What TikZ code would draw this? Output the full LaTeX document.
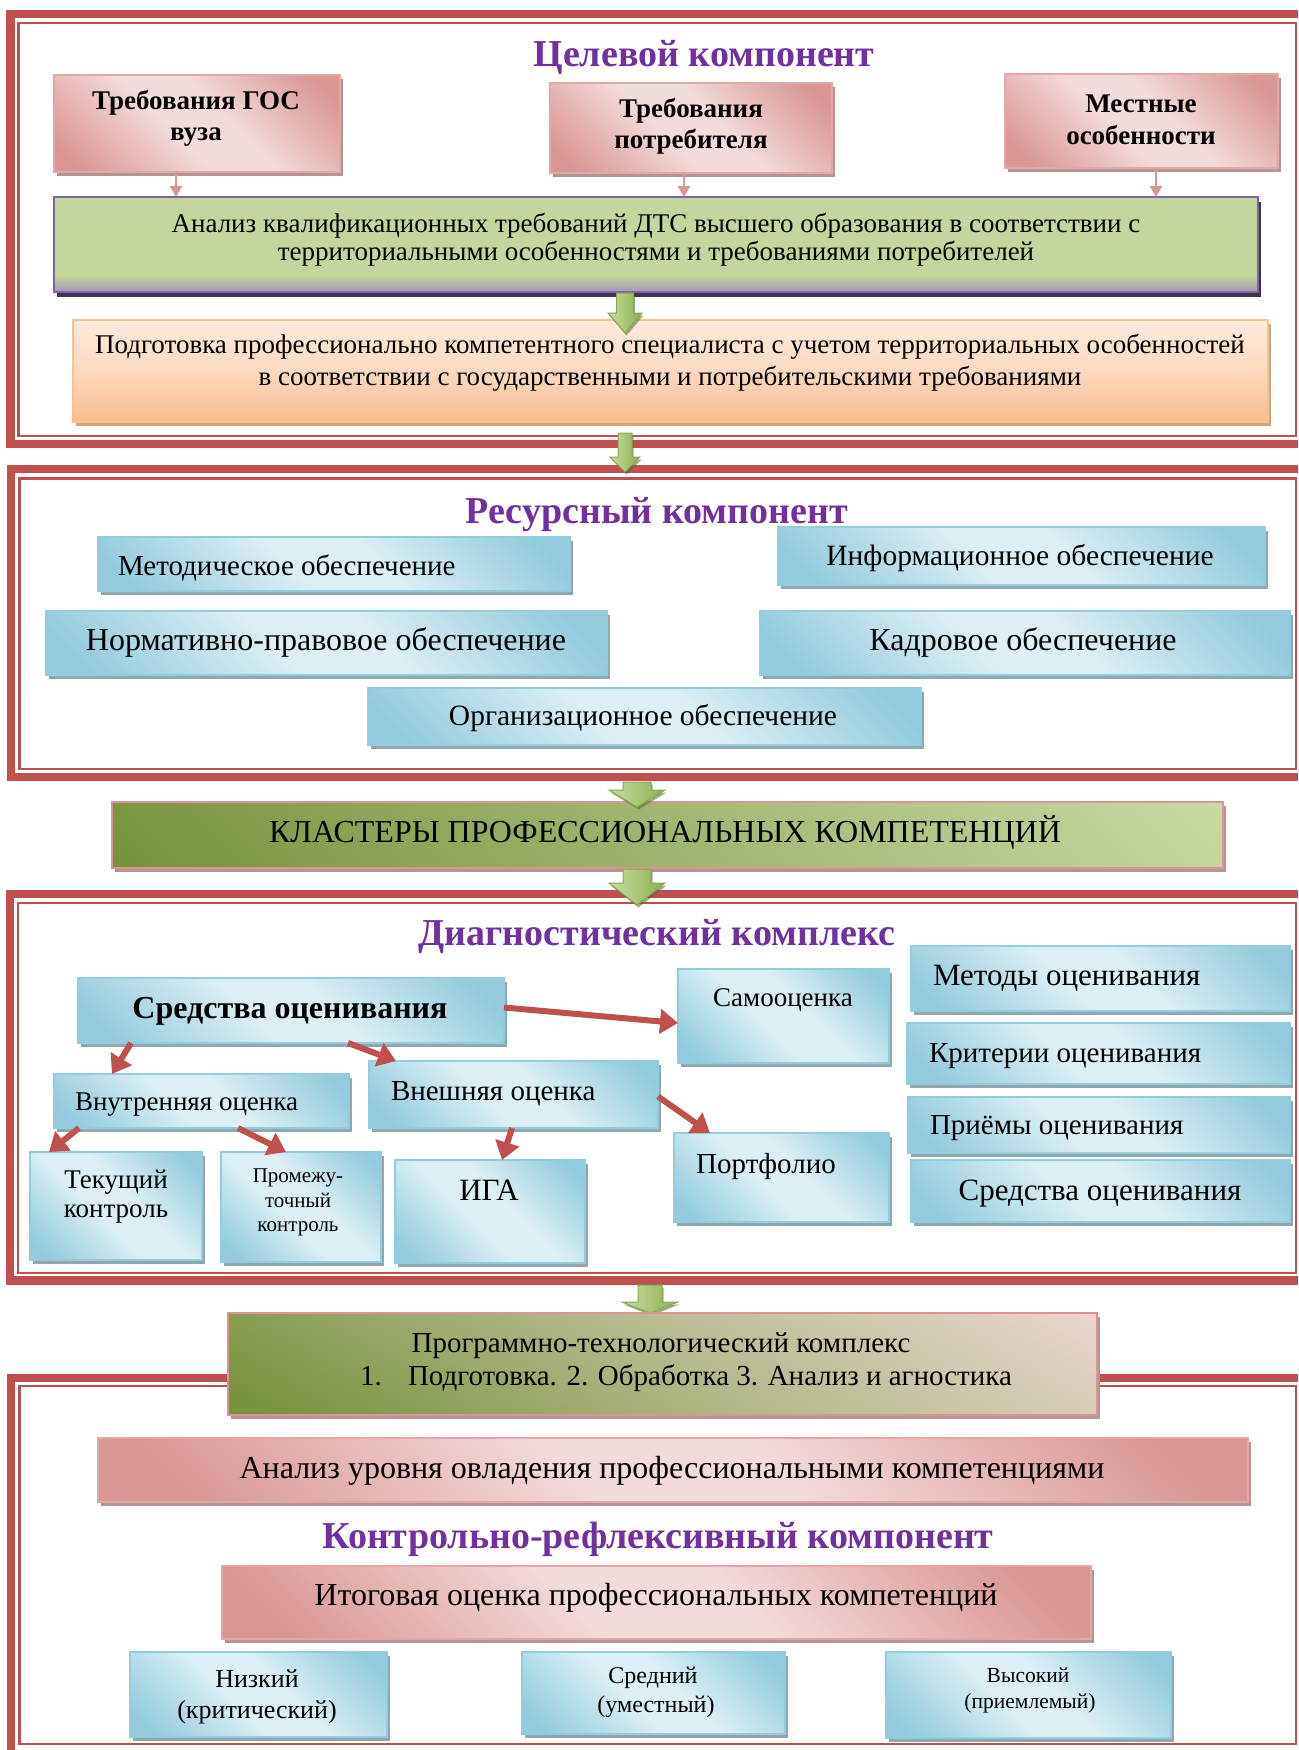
\documentclass[tikz,border=0pt]{standalone}
\usepackage{fontspec}
\setmainfont{Liberation Serif}
\usetikzlibrary{shadows,arrows.meta}

\definecolor{fred}{HTML}{C0504D}
\definecolor{tpurple}{HTML}{7030A0}
\definecolor{bdark}{HTML}{92CCDC}
\definecolor{blight}{HTML}{DDEFF4}
\definecolor{bborder}{HTML}{93CDDD}
\definecolor{bshadow}{HTML}{8FA7AD}
\definecolor{pdark}{HTML}{D99694}
\definecolor{plight}{HTML}{F2DCDB}
\definecolor{pborder}{HTML}{E0A8A7}
\definecolor{pshadow}{HTML}{B39595}
\definecolor{gfill}{HTML}{C3D69B}
\definecolor{gbot}{HTML}{A496B8}
\definecolor{gborder}{HTML}{8064A2}
\definecolor{gshadow}{HTML}{3F3151}
\definecolor{olight}{HTML}{FDEBDD}
\definecolor{omid}{HTML}{FCD9C0}
\definecolor{odark}{HTML}{F9BD8D}
\definecolor{oborder}{HTML}{FAC090}
\definecolor{oshadow}{HTML}{C8A888}
\definecolor{kldark}{HTML}{77933C}
\definecolor{kllight}{HTML}{C8DAA2}
\definecolor{prmid}{HTML}{B5BB8C}
\definecolor{prlight}{HTML}{EBD7D2}
\definecolor{alight}{HTML}{C9DDA0}
\definecolor{adark}{HTML}{8BAF4E}
\definecolor{aborder}{HTML}{86A84E}

\pgfdeclareverticalshading{blueshade}{100bp}{color(0bp)=(bdark); color(20bp)=(bdark); color(44bp)=(blight); color(56bp)=(blight); color(80bp)=(bdark); color(100bp)=(bdark)}
\pgfdeclareverticalshading{pinkshade}{100bp}{color(0bp)=(pdark); color(20bp)=(pdark); color(44bp)=(plight); color(56bp)=(plight); color(80bp)=(pdark); color(100bp)=(pdark)}
\pgfdeclareverticalshading{greenshade}{100bp}{color(0bp)=(gbot); color(25bp)=(gbot); color(34bp)=(gfill); color(100bp)=(gfill)}
\pgfdeclareverticalshading{orangeshade}{100bp}{color(0bp)=(odark); color(25bp)=(odark); color(50bp)=(omid); color(75bp)=(olight); color(100bp)=(olight)}
\pgfdeclareverticalshading{klshade}{100bp}{color(0bp)=(kldark); color(15bp)=(kldark); color(85bp)=(kllight); color(100bp)=(kllight)}
\pgfdeclareverticalshading{prshade}{100bp}{color(0bp)=(kldark); color(18bp)=(kldark); color(52bp)=(prmid); color(85bp)=(prlight); color(100bp)=(prlight)}

\newcommand\fsz[1]{\fontsize{#1pt}{#1pt}\selectfont}
\newcommand\bx[6]{\node[#1,anchor=north west,minimum width={#5pt-#3pt},minimum height={#6pt-#4pt}] (#2) at (#3,#4) {};}
\newcommand\garrow[6]{\path[garr] ({#1-#5},#2) -- ({#1+#5},#2) -- ({#1+#5},#3) -- ({#1+#6},#3) -- (#1,#4) -- ({#1-#6},#3) -- ({#1-#5},#3) -- cycle;}

\tikzset{
  frameo/.style={draw=fred,line width=8.5pt},
  framei/.style={draw=fred,line width=2.5pt},
  boxbase/.style={rectangle,inner sep=0pt,outer sep=0pt,line width=2pt,shade},
  bluebox/.style={boxbase,draw=bborder,shading=blueshade,shading angle=-45,
    drop shadow={shadow xshift=3pt,shadow yshift=-4pt,fill=bshadow,opacity=1}},
  pinkbox/.style={boxbase,draw=pborder,shading=pinkshade,shading angle=-45,
    drop shadow={shadow xshift=3pt,shadow yshift=-4pt,fill=pshadow,opacity=1}},
  greenbox/.style={boxbase,draw=gborder,line width=2.5pt,shading=greenshade,
    drop shadow={shadow xshift=3pt,shadow yshift=-5pt,fill=gshadow,opacity=1}},
  orangebox/.style={boxbase,draw=oborder,shading=orangeshade,
    drop shadow={shadow xshift=3pt,shadow yshift=-4pt,fill=oshadow,opacity=1}},
  klbox/.style={boxbase,draw=pdark,line width=2.5pt,shading=klshade,shading angle=-45,
    drop shadow={shadow xshift=3pt,shadow yshift=-4pt,fill=pshadow,opacity=1}},
  prbox/.style={boxbase,draw=pdark,line width=2.5pt,shading=prshade,shading angle=-30,
    drop shadow={shadow xshift=3pt,shadow yshift=-4pt,fill=pshadow,opacity=1}},
  txt/.style={anchor=base,inner sep=0pt,outer sep=0pt,text=black},
  ttl/.style={txt,font=\fsz{38}\bfseries,text=tpurple},
  garr/.style={left color=alight,right color=adark,draw=aborder,line width=1pt,
    drop shadow={shadow xshift=1.5pt,shadow yshift=-2.5pt,fill=kldark!70!black,opacity=.55}},
  redarr/.style={draw=fred,line width=6pt,-{Triangle[length=18pt,width=24pt]}},
  parr/.style={draw=pdark,line width=2.5pt,-{Triangle[length=11pt,width=12pt]}}
}

\begin{document}
\begin{tikzpicture}[x=1pt,y=-1pt]
\useasboundingbox (0,0) rectangle (1298,1750);
\fill[white] (0,0) rectangle (1298,1750);
\clip (0,0) rectangle (1298,1750);

% ---------- frames ----------
\draw[frameo] (10.5,14) rectangle (1320,444);
\draw[framei] (18.5,23) rectangle (1296,436);
\draw[frameo] (11,469) rectangle (1320,777);
\draw[framei] (19.5,478.5) rectangle (1296,769);
\draw[frameo] (10,894) rectangle (1320,1280.5);
\draw[framei] (18,903) rectangle (1296,1273);
\draw[frameo] (11,1378) rectangle (1320,1760);
\draw[framei] (19.5,1386) rectangle (1296,1744);

% ---------- Целевой компонент ----------
\node[ttl] (t1) at (704,67) {Целевой компонент};

\bx{pinkbox}{b1}{54}{75}{340}{172}
\node[txt,font=\fsz{27}\bfseries] (b1a) at (196,110) {Требования ГОС};
\node[txt,font=\fsz{27}\bfseries] (b1b) at (196,140) {вуза};

\bx{pinkbox}{b2}{550}{83}{832}{173}
\node[txt,font=\fsz{27}\bfseries] (b2a) at (691,118) {Требования};
\node[txt,font=\fsz{27}\bfseries] (b2b) at (691,148) {потребителя};

\bx{pinkbox}{b3}{1005}{74}{1278}{168}
\node[txt,font=\fsz{27}\bfseries] (b3a) at (1141,113) {Местные};
\node[txt,font=\fsz{27}\bfseries] (b3b) at (1141,145) {особенности};

\bx{greenbox}{g1}{54}{197}{1258}{292}
\node[txt,font=\fsz{27}] (g1a) at (656,232) {Анализ квалификационных требований ДТС высшего образования в соответствии с};
\node[txt,font=\fsz{27}] (g1b) at (656,260) {территориальными особенностями и требованиями потребителей};

\draw[parr] ([xshift=122pt]b1.south west) -- ([xshift=122pt]g1.north west);
\draw[parr] ([xshift=134pt]b2.south west) -- ([xshift=630pt]g1.north west);
\draw[parr] ([xshift=151pt]b3.south west) -- ([xshift=1102pt]g1.north west);

\bx{orangebox}{o1}{73}{320}{1268}{422}
\node[txt,font=\fsz{27}] (o1a) at (670,353) {Подготовка профессионально компетентного специалиста с учетом территориальных особенностей};
\node[txt,font=\fsz{27}] (o1b) at (670,385) {в соответствии с государственными и потребительскими требованиями};

\garrow{625}{293}{313}{333}{8.5}{17}
\garrow{625}{433}{457}{472}{7}{15}

% ---------- Ресурсный компонент ----------
\node[ttl] (t2) at (657,523) {Ресурсный компонент};

\bx{bluebox}{m1}{98}{537}{570}{591}
\node[txt,anchor=base west,font=\fsz{29}] (m1t) at (118,575) {Методическое обеспечение};
\bx{bluebox}{m2}{778}{527}{1265}{585}
\node[txt,font=\fsz{29.5}] (m2t) at (1020,565) {Информационное обеспечение};
\bx{bluebox}{m3}{46}{611}{607}{675}
\node[txt,font=\fsz{32}] (m3t) at (326,650) {Нормативно-правовое обеспечение};
\bx{bluebox}{m4}{760}{611}{1290}{675}
\node[txt,font=\fsz{32}] (m4t) at (1023,650) {Кадровое обеспечение};
\bx{bluebox}{m5}{368}{688}{921}{745}
\node[txt,font=\fsz{29.5}] (m5t) at (643,725) {Организационное обеспечение};

\bx{klbox}{kl}{112}{802}{1223}{868}
\node[txt,font=\fsz{32}] (klt) at (665,842) {КЛАСТЕРЫ ПРОФЕССИОНАЛЬНЫХ КОМПЕТЕНЦИЙ};

\garrow{637}{782}{790}{807}{14}{28}
\garrow{637}{869}{883}{905}{14}{28}

% ---------- Диагностический комплекс ----------
\node[ttl] (t3) at (657,945) {Диагностический комплекс};

\bx{bluebox}{sred}{78}{978}{504}{1043}
\node[txt,font=\fsz{32}\bfseries] (sredt) at (290,1018) {Средства оценивания};
\bx{bluebox}{vnutr}{54}{1074}{349}{1128}
\node[txt,anchor=base west,font=\fsz{27}] (vnutrt) at (75,1110) {Внутренняя оценка};
\bx{bluebox}{vnesh}{369}{1061}{658}{1128}
\node[txt,anchor=base west,font=\fsz{29}] (vnesht) at (391,1100) {Внешняя оценка};
\bx{bluebox}{tek}{30}{1152}{202}{1260}
\node[txt,font=\fsz{27}] (teka) at (116,1188) {Текущий};
\node[txt,font=\fsz{27}] (tekb) at (116,1217) {контроль};
\bx{bluebox}{prom}{221}{1152}{381}{1262}
\node[txt,font=\fsz{21}] (proma) at (298,1182) {Промежу-};
\node[txt,font=\fsz{21}] (promb) at (298,1207) {точный};
\node[txt,font=\fsz{21}] (promc) at (298,1231) {контроль};
\bx{bluebox}{iga}{395}{1160}{585}{1263}
\node[txt,font=\fsz{31}] (igat) at (489,1200) {ИГА};
\bx{bluebox}{samo}{678}{969}{889}{1063}
\node[txt,font=\fsz{27}] (samot) at (783,1006) {Самооценка};
\bx{bluebox}{portf}{674}{1133}{889}{1222}
\node[txt,font=\fsz{29}] (portft) at (766,1173) {Портфолио};
\bx{bluebox}{met}{911}{946}{1290}{1011}
\node[txt,anchor=base west,font=\fsz{31}] (mett) at (933,985) {Методы оценивания};
\bx{bluebox}{krit}{907}{1023}{1290}{1084}
\node[txt,anchor=base west,font=\fsz{29}] (kritt) at (929,1062) {Критерии оценивания};
\bx{bluebox}{prie}{908}{1097}{1290}{1153}
\node[txt,anchor=base west,font=\fsz{29}] (priet) at (930,1134) {Приёмы оценивания};
\bx{bluebox}{sred2}{911}{1160}{1290}{1222}
\node[txt,font=\fsz{31}] (sred2t) at (1100,1200) {Средства оценивания};

\draw[redarr] ([xshift=53pt]sred.south west) -- ([xshift=58pt]vnutr.north west);
\draw[redarr] ([xshift=270pt]sred.south west) -- ([xshift=27pt]vnesh.north west);
\draw[redarr] ([xshift=25pt]vnutr.south west) -- ([xshift=19pt]tek.north west);
\draw[redarr] ([xshift=184pt]vnutr.south west) -- ([xshift=65pt]prom.north west);
\draw[redarr] ([xshift=143pt]vnesh.south west) -- ([xshift=107pt]iga.north west);
\draw[redarr] ([yshift=3pt]sred.east) -- ([yshift=-7pt]samo.west);
\draw[redarr] ([yshift=-2pt]vnesh.east) -- ([xshift=36pt]portf.north west);

\garrow{650}{1285}{1302}{1313}{12}{28}

% ---------- Контрольно-рефлексивный компонент ----------
\bx{prbox}{prog}{228}{1313}{1097}{1415}
\node[txt,font=\fsz{29}] (proga) at (661,1352) {Программно-технологический комплекс};
\node[txt,anchor=base west,font=\fsz{29}] (progn) at (360,1385) {1.};
\node[txt,anchor=base west,font=\fsz{29}] (progb) at (408,1385) {Подготовка. 2. Обработка 3. Анализ и агностика};

\bx{pinkbox}{an}{98}{1438}{1248}{1502}
\node[txt,font=\fsz{32}] (ant) at (672,1478) {Анализ уровня овладения профессиональными компетенциями};

\node[ttl] (t4) at (658,1548) {Контрольно-рефлексивный компонент};

\bx{pinkbox}{itog}{222}{1566}{1091}{1639}
\node[txt,font=\fsz{32}] (itogt) at (656,1605) {Итоговая оценка профессиональных компетенций};

\bx{bluebox}{low}{130}{1652}{387}{1737}
\node[txt,font=\fsz{26}] (lowa) at (257,1687) {Низкий};
\node[txt,font=\fsz{26}] (lowb) at (257,1718) {(критический)};
\bx{bluebox}{mid}{522}{1652}{785}{1734}
\node[txt,font=\fsz{24}] (mida) at (653,1683) {Средний};
\node[txt,font=\fsz{24}] (midb) at (656,1712) {(уместный)};
\bx{bluebox}{high}{886}{1652}{1171}{1738}
\node[txt,font=\fsz{21.5}] (higha) at (1028,1682) {Высокий};
\node[txt,font=\fsz{21.5}] (highb) at (1030,1708) {(приемлемый)};
\end{tikzpicture}
\end{document}
